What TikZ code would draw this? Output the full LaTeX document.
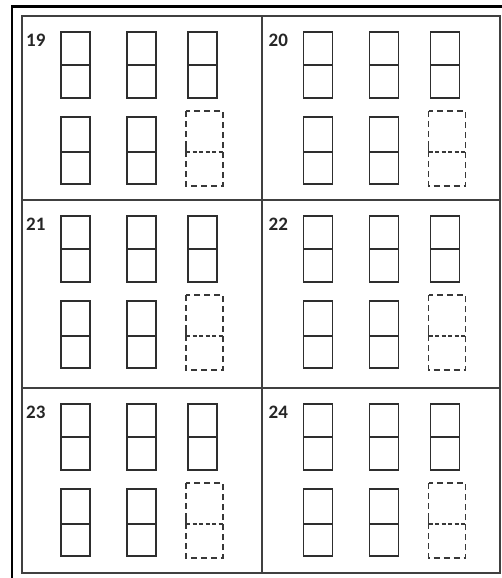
\documentclass[tikz,border=0pt]{standalone}
\usepackage{fontspec}
\setmainfont{Carlito}
\begin{document}
\begin{tikzpicture}[x=1pt,y=-1pt,
  outerline/.style={line width=2.4pt,draw=black},
  gridline/.style={line width=1.3pt,draw=black!75},
  boxline/.style={line width=1.5pt,draw=black!82},
  dashbox/.style={line width=1.4pt,draw=black!78,dash pattern=on 6pt off 4pt},
  dashmid/.style={line width=1.4pt,draw=black!78,dash pattern=on 4pt off 2.5pt},
  numlabel/.style={anchor=west,inner sep=0pt,font=\bfseries\fontsize{19}{19}\selectfont,text=black!85}]
\useasboundingbox (0,0) rectangle (502,578);
\fill[white] (0,0) rectangle (502,578);
% outer frame (cut off at right and bottom)
\draw[outerline] (12,590) -- (12,6.5) -- (520,6.5);
% inner frame and grid
\draw[gridline] (22,16) rectangle (500,573);
\draw[gridline] (262,16) -- (262,573);
\draw[gridline] (22,200) -- (500,200);
\draw[gridline] (22,388) -- (500,388);
% cells
\foreach \L/\T/\n [count=\i] in {22/16/19, 264.5/16/20, 22/200/21, 264.5/200/22, 22/388/23, 264.5/388/24}{
  \node[numlabel] (lab\i) at (\L+4,\T+24) {\n};
  \foreach \c in {39,105,166}{
    \draw[boxline] (\L+\c,\T+16) rectangle (\L+\c+29,\T+82);
    \draw[boxline] (\L+\c,\T+49) -- (\L+\c+29,\T+49);
  }
  \foreach \c in {39,105}{
    \draw[boxline] (\L+\c,\T+101) rectangle (\L+\c+29,\T+168);
    \draw[boxline] (\L+\c,\T+136) -- (\L+\c+29,\T+136);
  }
  \draw[dashbox] (\L+164,\T+95) rectangle (\L+201,\T+170);
  \draw[dashmid] (\L+164,\T+136) -- (\L+201,\T+136);
  \draw[line width=1.4pt,draw=black!78] (\L+164,\T+131) -- (\L+164,\T+141);
}
\end{tikzpicture}
\end{document}
